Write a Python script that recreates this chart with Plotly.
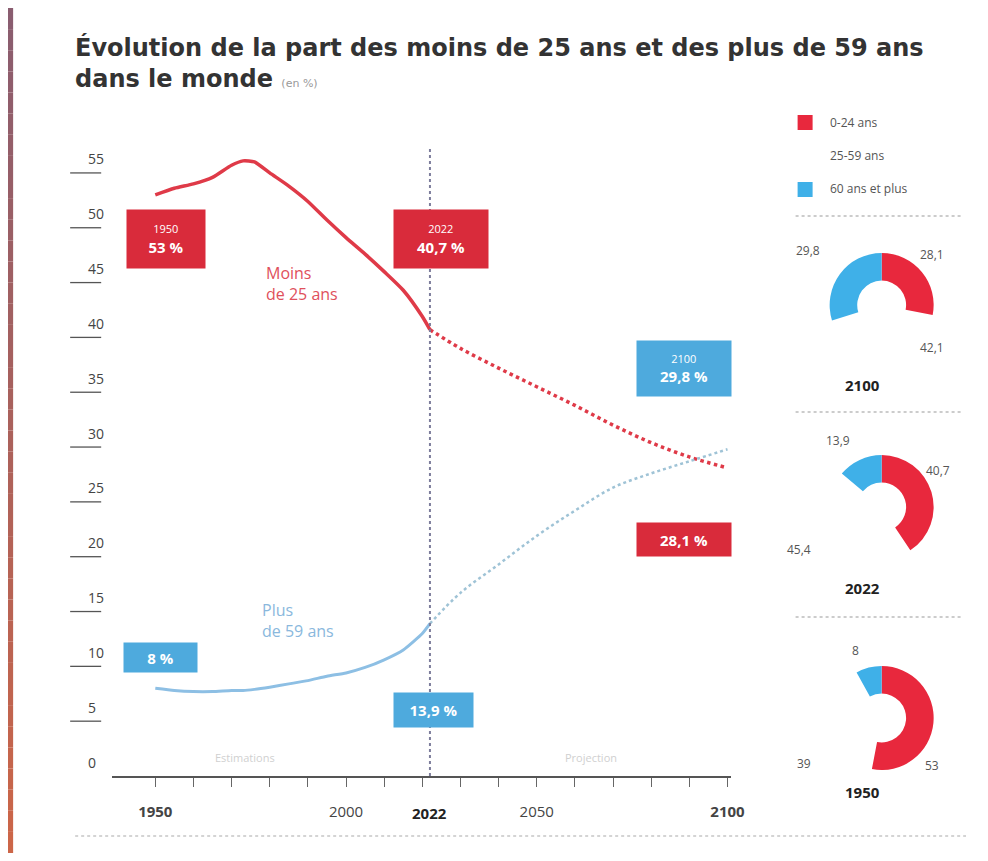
import plotly.graph_objects as go

# the page adds an 8px body margin around the figure; size it so nothing overflows
OFF = 8
W, H = 988 - 2 * OFF, 861 - 2 * OFF
SX = 0.985  # horizontal correction seen in the rendered page

# historical series (estimations)
years_hist = [1950, 1955, 1960, 1965, 1970, 1973, 1976, 1980, 1985, 1990, 1995,
              2000, 2005, 2010, 2015, 2020, 2022]
under25_hist = [53.0, 53.6, 54.0, 54.6, 55.7, 56.1, 56.0, 55.0, 53.8, 52.4, 50.7,
                49.1, 47.6, 46.0, 44.3, 41.9, 40.7]
over59_hist = [8.0, 7.8, 7.7, 7.7, 7.8, 7.8, 7.9, 8.1, 8.4, 8.7, 9.1,
               9.4, 9.9, 10.6, 11.5, 13.0, 13.9]

# projections
years_proj = [2022, 2030, 2040, 2050, 2060, 2070, 2080, 2090, 2100]
under25_proj = [40.7, 39.0, 37.2, 35.5, 33.8, 32.0, 30.4, 29.1, 28.1]
over59_proj = [13.9, 16.7, 19.3, 21.9, 24.2, 26.3, 27.6, 28.7, 29.8]

# donut shares: 0-24, 25-59, 60+
donut_years = ["2100", "2022", "1950"]
donut_values = {
    "2100": [28.1, 42.1, 29.8],
    "2022": [40.7, 45.4, 13.9],
    "1950": [53, 39, 8],
}
donut_labels = {
    "2100": ["28,1", "42,1", "29,8"],
    "2022": ["40,7", "45,4", "13,9"],
    "1950": ["53", "39", "8"],
}
age_groups = ["0-24 ans", "25-59 ans", "60 ans et plus"]

y_ticks = [0, 5, 10, 15, 20, 25, 30, 35, 40, 45, 50, 55]
x_ticks = list(range(1950, 2101, 10))
x_ticktext = {1950: "<b>1950</b>", 2000: "2000", 2050: "2050", 2100: "<b>2100</b>"}

RED = "#df3a48"
RED_BOX = "#d92b3b"
BLUE = "#8dbfe4"
BLUE_BOX = "#4eaadd"
BLUE_DOT = "#9fc3d6"
FONT = "Open Sans"


def px(x):
    return (x / SX - OFF) / W


def py(y):
    return 1 - (y - OFF) / H


fig = go.Figure()

fig.add_trace(go.Scatter(x=years_hist, y=under25_hist, mode="lines",
                         line=dict(color=RED, width=3.5, shape="spline", smoothing=0.6),
                         showlegend=False))
fig.add_trace(go.Scatter(x=years_proj, y=under25_proj, mode="lines",
                         line=dict(color=RED, width=3.5, dash="dot", shape="spline"),
                         showlegend=False))
fig.add_trace(go.Scatter(x=years_hist, y=over59_hist, mode="lines",
                         line=dict(color=BLUE, width=3, shape="spline", smoothing=0.5),
                         showlegend=False))
fig.add_trace(go.Scatter(x=years_proj, y=over59_proj, mode="lines",
                         line=dict(color=BLUE_DOT, width=2.5, dash="dot", shape="spline"),
                         showlegend=False))

# donuts
centers = {"2100": (881, 305), "2022": (881, 507), "1950": (881, 718)}
R = 52
for yr in donut_years:
    cx, cy = centers[yr]
    fig.add_trace(go.Pie(
        values=donut_values[yr], labels=age_groups, sort=False,
        direction="clockwise", rotation=0, hole=0.47,
        marker=dict(colors=["#e8283d", "rgba(255,255,255,0)", "#3fb0e8"],
                    line=dict(width=0)),
        textinfo="none", hoverinfo="label+value", showlegend=False,
        domain=dict(x=[px(cx - R), px(cx + R)], y=[py(cy + R), py(cy - R)]),
    ))

shapes = []
# frame of the photo (left strip, purple at the top to orange at the bottom)
n = 40
for i in range(n):
    t = i / (n - 1)
    r = int(0x8a + (0xcc - 0x8a) * t)
    g = int(0x5d + (0x66 - 0x5d) * t)
    b = int(0x70 + (0x48 - 0x70) * t)
    shapes.append(dict(type="rect", xref="paper", yref="paper",
                       x0=0, x1=px(13), y0=1 - (i + 1) / n, y1=1 - i / n,
                       fillcolor=f"rgb({r},{g},{b})", line=dict(width=0), layer="above"))

# y tick underlines
for v in y_ticks[1:]:
    shapes.append(dict(type="line", xref="paper", yref="y", x0=px(70), x1=px(101),
                       y0=v, y1=v, line=dict(color="#555", width=1.3)))

# 2022 separator
shapes.append(dict(type="line", xref="x", yref="paper", x0=2022, x1=2022,
                   y0=py(776), y1=py(148), line=dict(color="#7d7d9c", width=2, dash="dot")))

# dotted separators on the right and bottom
for yy in [216, 412, 617]:
    shapes.append(dict(type="line", xref="paper", yref="paper", x0=px(795), x1=px(962),
                       y0=py(yy), y1=py(yy), line=dict(color="#999", width=1.2, dash="dot")))
shapes.append(dict(type="line", xref="paper", yref="paper", x0=px(75), x1=min(1, px(975)),
                   y0=py(836), y1=py(836), line=dict(color="#aaa", width=1.2, dash="dot")))

# legend squares
shapes.append(dict(type="rect", xref="paper", yref="paper", x0=px(797), x1=px(812),
                   y0=py(130), y1=py(115), fillcolor="#e8283d", line=dict(width=0)))
shapes.append(dict(type="rect", xref="paper", yref="paper", x0=px(797), x1=px(812),
                   y0=py(197), y1=py(182), fillcolor="#3fb0e8", line=dict(width=0)))

ann = []
ann.append(dict(
    xref="paper", yref="paper", x=px(73), y=py(31), xanchor="left", yanchor="top",
    align="left", showarrow=False,
    text="Évolution de la part des moins de 25 ans et des plus de 59 ans<br>"
         "dans le monde <span style='font-size:11px;color:#999;font-weight:400'>(en %)</span>",
    font=dict(family="DejaVu Sans", size=24, color="#333", weight="bold"),
))

for v in y_ticks:
    ann.append(dict(xref="paper", yref="y", x=px(86), y=v, yshift=14, showarrow=False,
                    text=str(v), font=dict(family=FONT, size=14, color="#444")))

ann.append(dict(xref="x", yref="paper", x=2022, y=py(813), yanchor="middle", showarrow=False,
                text="<b>2022</b>", font=dict(family=FONT, size=15, color="#222")))


def box(x, y, text, color, w, h, size=15):
    ann.append(dict(xref="x", yref="y", x=x, y=y, showarrow=False, text=text,
                    bgcolor=color, width=w, height=h, borderpad=0,
                    font=dict(family=FONT, size=size, color="white")))


box(1952.9, 49.0, "<span style='font-size:11px'>1950</span><br><b>53 %</b>", RED_BOX, 78, 58)
box(2024.8, 49.0, "<span style='font-size:11px'>2022</span><br><b>40,7 %</b>", RED_BOX, 94, 58)
box(2088.6, 37.2, "<span style='font-size:11px'>2100</span><br><b>29,8 %</b>", BLUE_BOX, 94, 55)
box(2088.6, 21.6, "<b>28,1 %</b>", RED_BOX, 94, 33)
box(1951.3, 10.85, "<b>8 %</b>", BLUE_BOX, 73, 29)
box(2023.0, 6.0, "<b>13,9 %</b>", BLUE_BOX, 79, 34)

ann.append(dict(xref="x", yref="y", x=1978.6, y=44.9, xanchor="left", align="left",
                showarrow=False, text="Moins<br>de 25 ans",
                font=dict(family=FONT, size=16, color="#e0505c")))
ann.append(dict(xref="x", yref="y", x=1977.4, y=14.2, xanchor="left", align="left",
                showarrow=False, text="Plus<br>de 59 ans",
                font=dict(family=FONT, size=16, color="#8ab8dd")))
ann.append(dict(xref="x", yref="y", x=1973.6, y=1.7, showarrow=False, text="Estimations",
                font=dict(family=FONT, size=11, color="#d0d0d0")))
ann.append(dict(xref="x", yref="y", x=2064.2, y=1.7, showarrow=False, text="Projection",
                font=dict(family=FONT, size=11, color="#d0d0d0")))

# legend texts
for txt, yy in zip(age_groups, [122, 155, 189]):
    ann.append(dict(xref="paper", yref="paper", x=px(827), y=py(yy), xanchor="left",
                    yanchor="middle", showarrow=False, text=txt,
                    font=dict(family=FONT, size=12, color="#555")))

# donut labels
label_pos = {
    "2100": [(945, 254), (945, 347), (821, 250), (881, 385)],
    "2022": [(951, 470), (812, 549), (851, 440), (881, 588)],
    "1950": [(940, 765), (812, 763), (860, 650), (881, 792)],
}
for yr in donut_years:
    pos = label_pos[yr]
    for lab, (lx, ly) in zip(donut_labels[yr], pos[:3]):
        ann.append(dict(xref="paper", yref="paper", x=px(lx), y=py(ly), yanchor="middle",
                        showarrow=False, text=lab,
                        font=dict(family=FONT, size=12, color="#555")))
    lx, ly = pos[3]
    ann.append(dict(xref="paper", yref="paper", x=px(lx), y=py(ly), yanchor="middle",
                    showarrow=False, text=f"<b>{yr}</b>",
                    font=dict(family=FONT, size=15, color="#222")))

fig.update_layout(
    width=W, height=H,
    margin=dict(l=0, r=0, t=0, b=0),
    paper_bgcolor="white", plot_bgcolor="white",
    shapes=shapes, annotations=ann,
    xaxis=dict(domain=[px(112), px(730)], range=[1938.7, 2100.8],
               showgrid=False, zeroline=False, showline=True, linecolor="#555", linewidth=1.5,
               ticks="outside", ticklen=9, tickwidth=1.2, tickcolor="#666",
               tickvals=x_ticks, ticktext=[x_ticktext.get(v, "") for v in x_ticks],
               ticklabelstandoff=12,
               tickfont=dict(family=FONT, size=15, color="#444")),
    yaxis=dict(domain=[py(776), py(151)], range=[0, 57], showgrid=False, zeroline=False,
               showticklabels=False, showline=False),
)

fig.write_html("out.html")
